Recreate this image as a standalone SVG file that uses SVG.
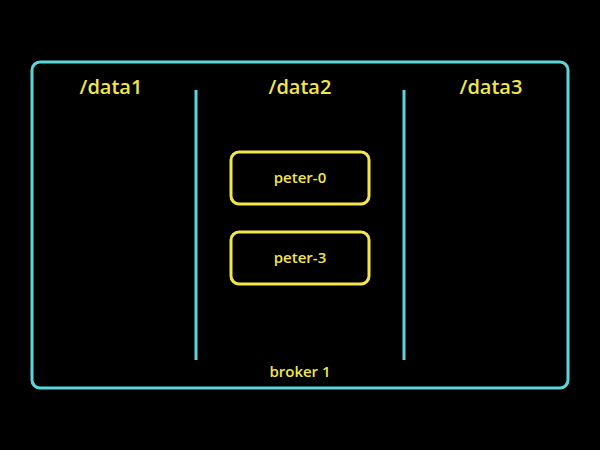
<svg xmlns="http://www.w3.org/2000/svg" width="600" height="450" viewBox="0 0 600 450">
<style>
.frame{fill:none;stroke:#5cd6dc;stroke-width:3}
.div{stroke:#5cd6dc;stroke-width:3}
.node{fill:none;stroke:#f2e64a;stroke-width:3}
.h{font-family:"Open Sans","Noto Sans",sans-serif;font-size:20px;font-weight:600;fill:#f2e64a;text-anchor:middle}
.t{font-family:"Open Sans","Noto Sans",sans-serif;font-size:15px;font-weight:600;fill:#f2e64a;text-anchor:middle}
</style>
<rect width="600" height="450" fill="#000"/>
<g id="broker1">
<rect class="frame" x="32" y="62" width="536" height="326" rx="8"/>
<text class="t" x="300" y="377">broker 1</text>
</g>
<g id="connectors">
<line class="div" x1="196" y1="90" x2="196" y2="360"/>
<line class="div" x1="404" y1="90" x2="404" y2="360"/>
</g>
<g id="data1"><text class="h" x="111" y="94">/data1</text></g>
<g id="data2"><text class="h" x="300" y="94">/data2</text></g>
<g id="data3"><text class="h" x="491" y="94">/data3</text></g>
<g id="peter-0">
<rect class="node" x="231" y="152" width="138" height="52" rx="8"/>
<text class="t" x="300" y="183">peter-0</text>
</g>
<g id="peter-3">
<rect class="node" x="231" y="232" width="138" height="52" rx="8"/>
<text class="t" x="300" y="263">peter-3</text>
</g>
</svg>
